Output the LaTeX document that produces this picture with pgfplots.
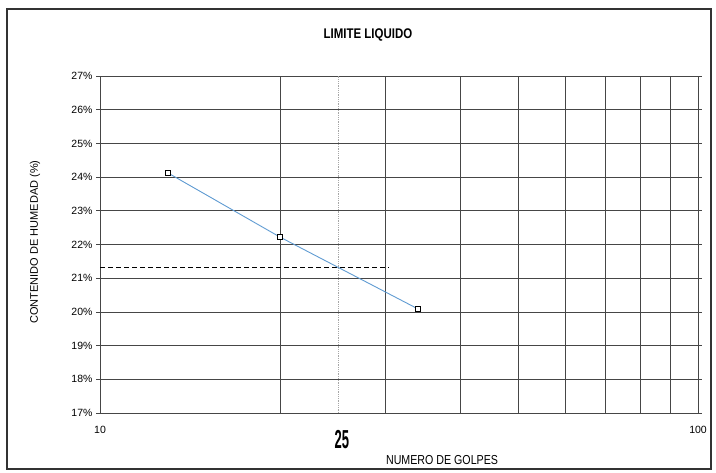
\documentclass[border=0pt]{standalone}
\usepackage{pgfplots}
\pgfplotsset{compat=1.18}
\usepackage{graphicx}
\usepackage{fontspec}
\setmainfont{Liberation Sans}
\newfontfamily\narrow[FakeStretch=0.82]{Liberation Sans}
\definecolor{lineblue}{RGB}{95,155,210}
\definecolor{gridgray}{RGB}{70,70,70}
\begin{document}
\begin{tikzpicture}[x=1pt,y=1pt]
\useasboundingbox (-100,-60) rectangle (616,413);
\draw[line width=1.2pt, black!80] (-93,-56) rectangle (611,404);
\node[rotate=90, font=\fontsize{11}{13}\selectfont] at (-65,171) {CONTENIDO DE HUMEDAD (\%)};
\begin{axis}[
  at={(0,0)}, anchor=south west,
  scale only axis, width=598pt, height=337pt,
  xmode=log, xmin=10, xmax=100, ymin=17, ymax=27,
  xtick={10,20,30,40,50,60,70,80,90,100},
  xticklabels={10,,,,,,,,,100},
  ytick={17,18,19,20,21,22,23,24,25,26,27},
  yticklabels={17\%,18\%,19\%,20\%,21\%,22\%,23\%,24\%,25\%,26\%,27\%},
  xmajorgrids, ymajorgrids,
  grid style={gridgray, line width=0.6pt},
  axis line style={gridgray, line width=0.7pt},
  tick align=outside,
  x tick style={draw=none},
  y tick style={gridgray, line width=0.6pt},
  major tick length=4pt,
  log basis x=10,
  /pgf/number format/assume math mode=true,
  tick label style={font=\fontsize{10.5}{12}\selectfont},
  xticklabel style={yshift=-6pt},
  clip=false,
]
\addplot[gray!70, densely dotted, line width=0.8pt] coordinates {(25,17) (25,27)};
\addplot[black, dashed, line width=1.1pt, dash pattern=on 5pt off 3pt] coordinates {(10,21.33) (30.4,21.33)};
\addplot[lineblue, line width=0.9pt, mark=square*, mark size=2.4pt,
  mark options={fill=white, draw=black, line width=0.7pt}] coordinates {
  (13,24.12) (20,22.22) (34,20.09)};
\node[font=\narrow\bfseries\fontsize{14}{16}\selectfont] at (rel axis cs:0.448,1) [yshift=41pt] {LIMITE LIQUIDO};
\node[font=\bfseries\fontsize{26}{28}\selectfont] at (axis cs:25,17) [yshift=-27pt, xshift=4pt] {\scalebox{0.5}[1]{25}};
\node[font=\narrow\fontsize{13}{15}\selectfont] at (rel axis cs:0.572,0) [yshift=-47pt] {NUMERO DE GOLPES};
\end{axis}
\end{tikzpicture}
\end{document}
